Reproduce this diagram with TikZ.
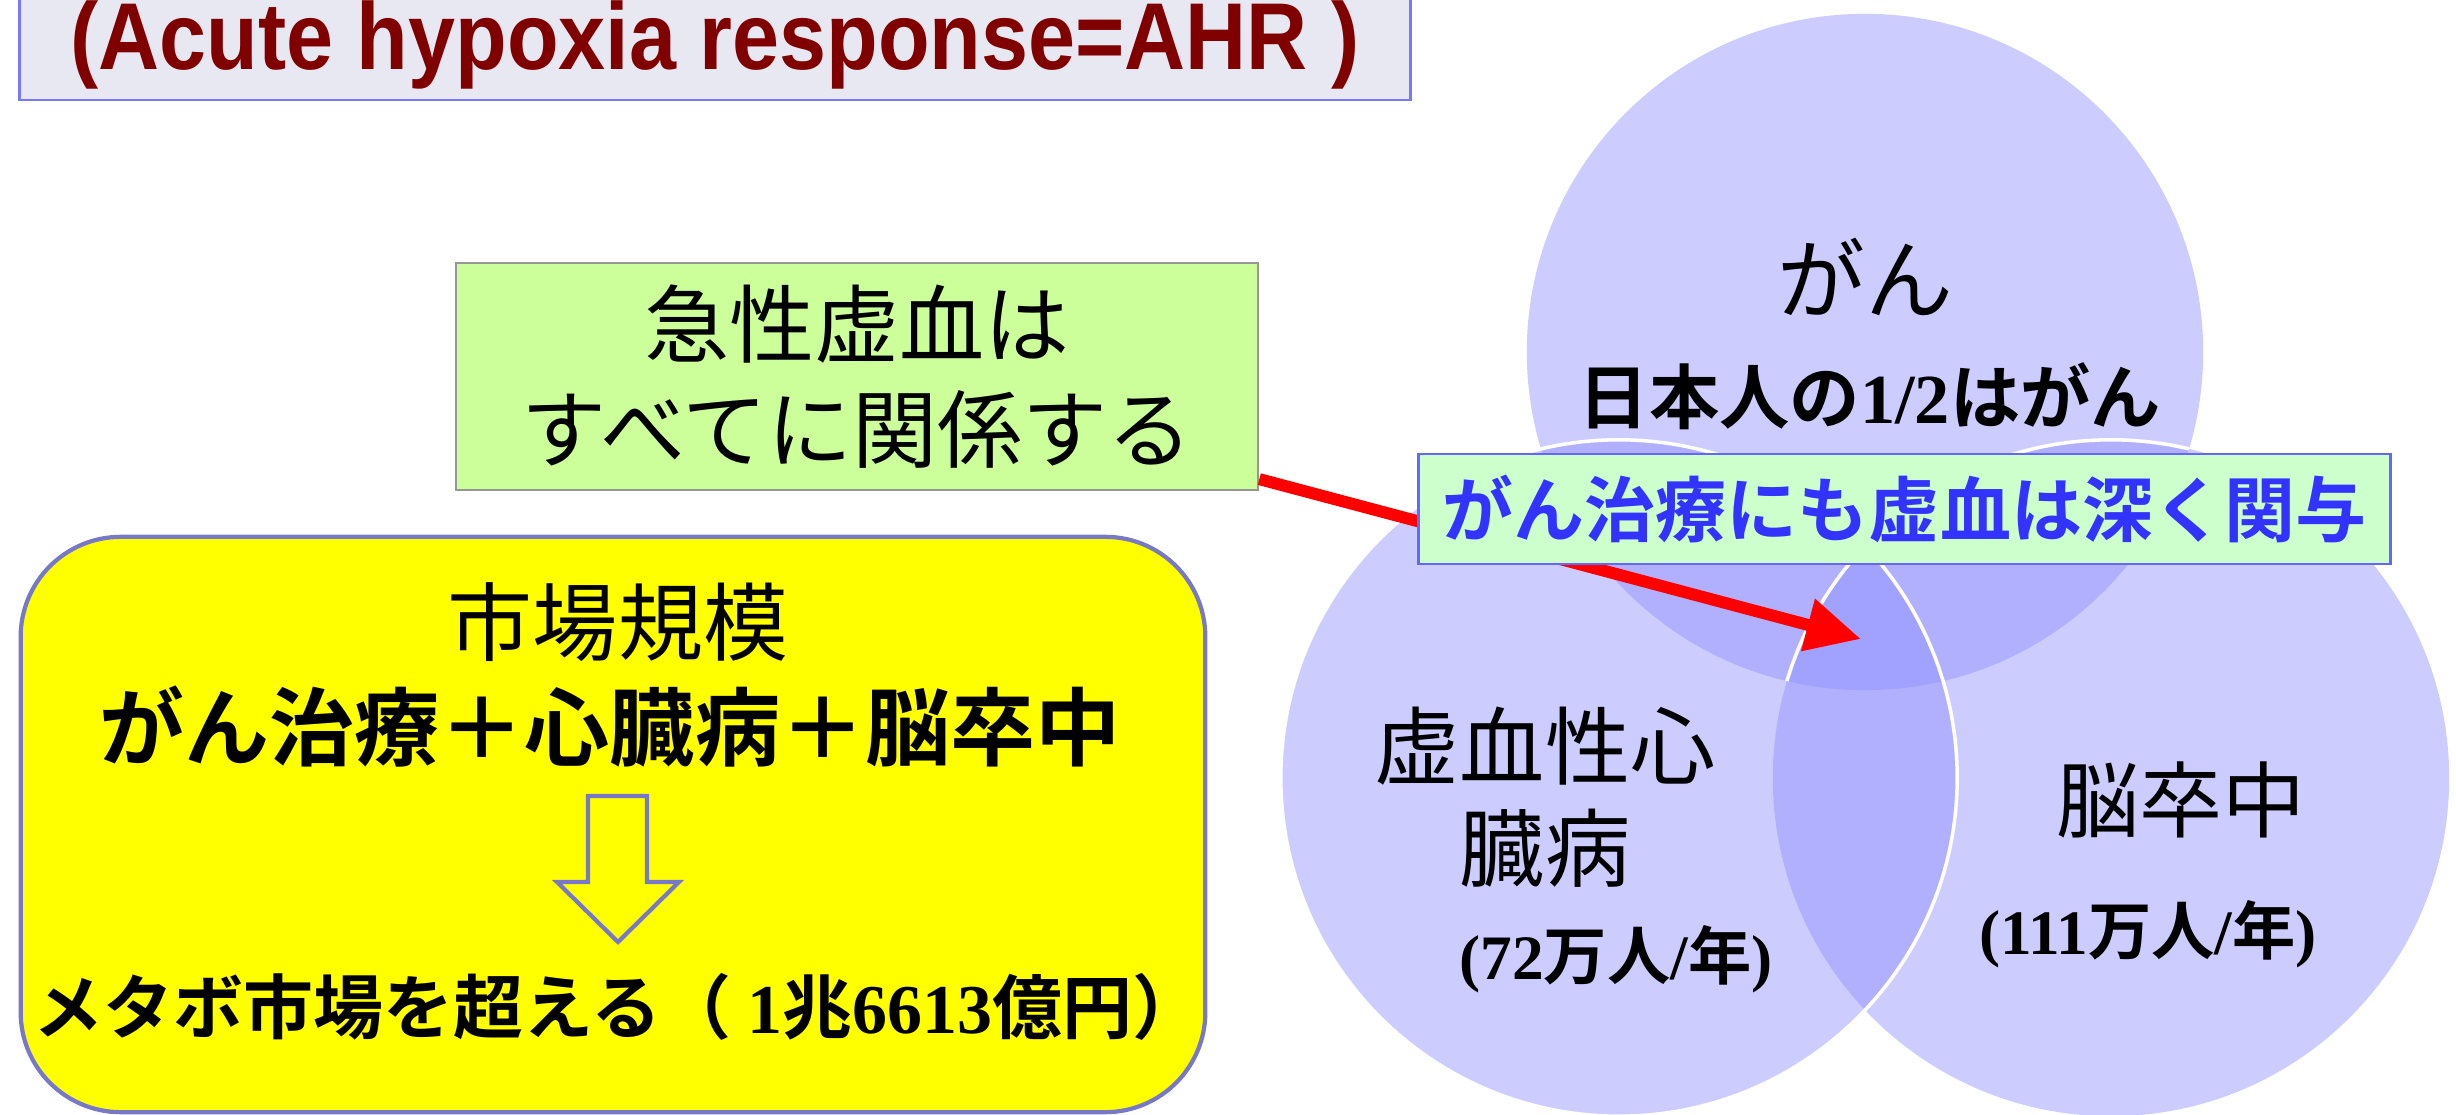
\documentclass[tikz,border=0pt]{standalone}
\usepackage{fontspec}
\setmainfont{Liberation Serif}
\newfontfamily\jp{Noto Sans CJK JP}[BoldFont={Noto Sans CJK JP Bold}]
\newfontfamily\lsans{Liberation Sans}
\usetikzlibrary{arrows.meta,calc}
\definecolor{titlefill}{RGB}{232,232,242}
\definecolor{titleborder}{RGB}{120,120,255}
\definecolor{titletext}{RGB}{128,0,0}
\definecolor{greenfill}{RGB}{204,255,153}
\definecolor{greenborder}{RGB}{150,150,150}
\definecolor{labelfill}{RGB}{204,255,204}
\definecolor{labelborder}{RGB}{102,102,255}
\definecolor{labeltext}{RGB}{51,51,255}
\definecolor{yborder}{RGB}{120,120,200}
\definecolor{yfill}{RGB}{255,255,0}
\definecolor{arrowred}{RGB}{255,0,0}
\definecolor{circfill}{RGB}{142,142,255}
\newcommand\tnr[1]{{\rmfamily\bfseries #1}}
\tikzset{
  jptext/.style={inner sep=0pt, font=\jp},
  circlefill/.style={fill=circfill, fill opacity=0.45},
  circleedge/.style={draw=white, line width=1pt},
}
\begin{document}
\begin{tikzpicture}[x=0.01cm,y=-0.01cm]
\useasboundingbox (0,0) rectangle (2456,1115);
% title
\node[draw=titleborder, fill=titlefill, line width=0.7pt, minimum width=13.9cm, minimum height=1.1cm, inner sep=0pt,
      text=titletext, font=\lsans\bfseries\fontsize{27pt}{30pt}\selectfont] (title) at (715,45)
  {\scalebox{0.89}[1]{(Acute hypoxia response=AHR )}};
% circles
\coordinate (ctop) at (1865,352);
\coordinate (cbl) at (1619,778);
\coordinate (cbr) at (2111,778);
\fill[circlefill] (ctop) circle[radius=3.38cm];
\fill[circlefill] (cbr) circle[radius=3.38cm];
\fill[circlefill] (cbl) circle[radius=3.38cm];
\begin{scope}
  \clip (ctop) circle[radius=3.38cm];
  \draw[circleedge] (cbr) circle[radius=3.38cm];
\end{scope}
\draw[circleedge] (cbl) circle[radius=3.38cm];
% circle texts
\node[jptext, font=\jp\fontsize{25pt}{30pt}\selectfont] (gan) at (1865,277) {がん};
\node[jptext, font=\jp\bfseries\fontsize{20pt}{24pt}\selectfont] (half) at (1870,396) {日本人の\tnr{1/2}はがん};
\node[jptext, font=\jp\fontsize{24.2pt}{29pt}\selectfont, align=center] (heart) at (1545,797) {虚血性心\\臓病};
\node[jptext, font=\jp\bfseries\fontsize{18pt}{22pt}\selectfont] (heartnum) at (1616,959) {\tnr{(72}万人\tnr{/}年\tnr{)}};
\node[jptext, font=\jp\fontsize{23.6pt}{28pt}\selectfont] (stroke) at (2181,800) {脳卒中};
\node[jptext, font=\jp\bfseries\fontsize{18pt}{22pt}\selectfont] (strokenum) at (2148,934) {\tnr{(111}万人\tnr{/}年\tnr{)}};
% red arrow
\coordinate (core) at (1861,639);
% green box
\node[draw=greenborder, fill=greenfill, line width=0.6pt, minimum width=8.02cm, minimum height=2.27cm, inner sep=0pt,
      align=center, font=\jp\fontsize{24.2pt}{29.9pt}\selectfont] (gbox) at (857,376.5)
  {急性虚血は\\すべてに関係する};
\draw[arrowred, line width=3.4pt, -{Triangle[length=15.6pt, width=14.5pt]}] ($(gbox.south east)+(0,-12)$) -- (core);
% blue label
\node[draw=labelborder, fill=labelfill, line width=0.7pt, minimum width=9.71cm, minimum height=1.10cm, inner sep=0pt,
      text=labeltext, font=\jp\bfseries\fontsize{20.2pt}{24pt}\selectfont] (label) at (1904.5,509)
  {がん治療にも虚血は深く関与};
% yellow box
\node[draw=yborder, fill=yfill, line width=1.2pt, rounded corners=1cm, minimum width=11.84cm, minimum height=5.75cm, inner sep=0pt] (ybox) at (613,824.5) {};
\node[jptext, font=\jp\fontsize{24.2pt}{29pt}\selectfont] (market) at (618,622) {市場規模};
\node[jptext, font=\jp\bfseries\fontsize{24.2pt}{29pt}\selectfont] (sum) at (610,727) {がん治療＋心臓病＋脳卒中};
\draw[yborder, line width=1.2pt, fill=yfill] (588,796) -- (647,796) -- (647,882) -- (679,882) -- (618,942) -- (557,882) -- (588,882) -- cycle;
\node[jptext, font=\jp\bfseries\fontsize{19.9pt}{24pt}\selectfont] (metabo) at (618,1007) {メタボ市場を超える（ \tnr{1}兆\tnr{6613}億円）};
\end{tikzpicture}
\end{document}
